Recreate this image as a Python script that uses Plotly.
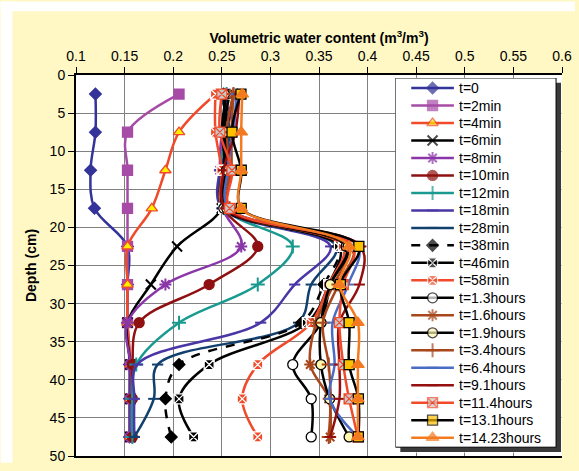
import plotly.graph_objects as go

# Depth of each probe (cm)
depth = [2.5, 7.5, 12.5, 17.5, 22.5, 27.5, 32.5, 38, 42.5, 47.5]

# Volumetric water content profiles (m3/m3) at each time
t0      = [0.120, 0.120, 0.115, 0.119, 0.153, 0.153, 0.153, 0.155, 0.155, 0.155]
t2min   = [0.206, 0.153, 0.153, 0.153, 0.153, 0.153, 0.153, 0.156, 0.156, 0.156]
t4min   = [0.244, 0.206, 0.192, 0.178, 0.153, 0.153, 0.153, 0.156, 0.156, 0.156]
t6min   = [0.262, 0.255, 0.250, 0.250, 0.204, 0.177, 0.153, 0.156, 0.156, 0.156]
t8min   = [0.258, 0.250, 0.248, 0.251, 0.270, 0.192, 0.153, 0.156, 0.156, 0.156]
t10min  = [0.252, 0.256, 0.252, 0.252, 0.287, 0.237, 0.165, 0.158, 0.158, 0.158]
t12min  = [0.255, 0.253, 0.250, 0.253, 0.323, 0.287, 0.206, 0.162, 0.158, 0.158]
t18min  = [0.250, 0.262, 0.248, 0.250, 0.362, 0.325, 0.290, 0.163, 0.160, 0.160]
t28min  = [0.248, 0.258, 0.250, 0.251, 0.368, 0.342, 0.329, 0.184, 0.180, 0.160]
t38min  = [0.252, 0.255, 0.251, 0.252, 0.370, 0.355, 0.332, 0.206, 0.192, 0.198]
t46min  = [0.258, 0.252, 0.253, 0.252, 0.371, 0.360, 0.338, 0.237, 0.206, 0.221]
t58min  = [0.2435, 0.2435, 0.250, 0.252, 0.375, 0.360, 0.342, 0.287, 0.271, 0.287]
t1_3h   = [0.255, 0.250, 0.255, 0.252, 0.378, 0.362, 0.352, 0.323, 0.342, 0.342]
t1_6h   = [0.262, 0.255, 0.258, 0.255, 0.380, 0.365, 0.347, 0.341, 0.360, 0.3615]
t1_9h   = [0.2527, 0.2527, 0.255, 0.255, 0.380, 0.3615, 0.352, 0.352, 0.361, 0.381]
t3_4h   = [0.262, 0.260, 0.260, 0.258, 0.385, 0.370, 0.354, 0.360, 0.362, 0.360]
t6_4h   = [0.265, 0.262, 0.256, 0.257, 0.390, 0.380, 0.364, 0.366, 0.361, 0.390]
t9_1h   = [0.268, 0.264, 0.252, 0.254, 0.393, 0.3915, 0.371, 0.371, 0.371, 0.3615]
t11_4h  = [0.250, 0.248, 0.2605, 0.258, 0.385, 0.375, 0.371, 0.375, 0.381, 0.390]
t13_1h  = [0.2697, 0.2605, 0.270, 0.270, 0.391, 0.372, 0.381, 0.381, 0.3905, 0.3905]
t14_23h = [0.271, 0.270, 0.270, 0.270, 0.381, 0.371, 0.390, 0.390, 0.390, 0.390]

x_ticks = [0.1, 0.15, 0.2, 0.25, 0.3, 0.35, 0.4, 0.45, 0.5, 0.55, 0.6]
y_ticks = [0, 5, 10, 15, 20, 25, 30, 35, 40, 45, 50]

# name, values, line colour, dash, marker symbol, marker fill, marker outline, marker size
series = [
    ("t=0",         t0,      "#333399", "solid", "diamond",       "#333399", "#333399", 9),
    ("t=2min",      t2min,   "#A64CA6", "solid", "square",        "#A64CA6", "#A64CA6", 10),
    ("t=4min",      t4min,   "#F04A2A", "solid", "triangle-up",   "#FFEE00", "#F04A2A", 10),
    ("t=6min",      t6min,   "#000000", "solid", "x-thin",        "#000000", "#000000", 10),
    ("t=8min",      t8min,   "#8A35A8", "solid", "asterisk",      "#8A35A8", "#8A35A8", 10),
    ("t=10min",     t10min,  "#8E1010", "solid", "circle",        "#8E1010", "#8E1010", 10),
    ("t=12min",     t12min,  "#199A90", "solid", "cross-thin",    "#199A90", "#199A90", 10),
    ("t=18min",     t18min,  "#4B36A6", "solid", "line-ew",       "#4B36A6", "#4B36A6", 8),
    ("t=28min",     t28min,  "#12406E", "solid", "line-ew",       "#12406E", "#12406E", 8),
    ("t=38min",     t38min,  "#000000", "dash",  "diamond",       "#000000", "#000000", 9),
    ("t=46min",     t46min,  "#000000", "solid", "square-x",      "#000000", "#FFFFFF", 10),
    ("t=58min",     t58min,  "#F04A2A", "solid", "square-x",      "#F04A2A", "#FFFFFF", 10),
    ("t=1.3hours",  t1_3h,   "#000000", "solid", "circle",        "#FFFFFF", "#000000", 10),
    ("t=1.6hours",  t1_6h,   "#A8461C", "solid", "asterisk",      "#A8461C", "#A8461C", 10),
    ("t=1.9hours",  t1_9h,   "#000000", "solid", "circle",        "#FFF6B0", "#000000", 10),
    ("t=3.4hours",  t3_4h,   "#A8461C", "solid", "cross-thin",    "#A8461C", "#A8461C", 10),
    ("t=6.4hours",  t6_4h,   "#4A6CC4", "solid", "line-ew",       "#4A6CC4", "#4A6CC4", 8),
    ("t=9.1hours",  t9_1h,   "#960F0F", "solid", "line-ew",       "#960F0F", "#960F0F", 8),
    ("t=11.4hours", t11_4h,  "#F04A2A", "solid", "square-x",      "#C8C8C8", "#F04A2A", 10),
    ("t=13.1hours", t13_1h,  "#000000", "solid", "square",        "#FFC000", "#000000", 10),
    ("t=14.23hours", t14_23h, "#F47A20", "solid", "triangle-up",  "#F47A20", "#F47A20", 11),
]

W, H = 579, 471
ml, mr, mt, mb = 76, 13, 75, 7
pw, ph = W - ml - mr, H - mt - mb

def px_x(p):
    return (p - ml) / pw

def px_y(p):
    return (H - mb - p) / ph

# Legend panel geometry (page pixels); a second, hidden axis pair maps 1:1 to pixels
LG_L, LG_R, LG_T, LG_B = 398, 560, 78, 455
SHADOW = 5
ROW0, ROW_STEP = 88.3, 17.85
SAMPLE_X0, SAMPLE_X1, TEXT_X = 414, 457, 460

fig = go.Figure()

def marker_style(sym, fill, outline, color, size):
    thin = sym.endswith("-thin") or sym in ("asterisk", "line-ew")
    return dict(symbol=sym, size=size, color=fill,
                line=dict(color=color if thin else outline,
                          width=2 if thin else 1.3))

for name, vals, color, dash, sym, fill, outline, size in series:
    fig.add_trace(go.Scatter(
        x=vals, y=depth, name=name, mode="lines+markers", showlegend=False,
        line=dict(color=color, width=2.5, dash=dash, shape="spline", smoothing=1),
        marker=marker_style(sym, fill, outline, color, size),
    ))

annotations = []
for i, (name, vals, color, dash, sym, fill, outline, size) in enumerate(series):
    yc = ROW0 + i * ROW_STEP
    xm = (SAMPLE_X0 + SAMPLE_X1) / 2
    fig.add_trace(go.Scatter(
        x=[SAMPLE_X0, xm, SAMPLE_X1], y=[yc, yc, yc], xaxis="x2", yaxis="y2",
        mode="lines+markers", showlegend=False, hoverinfo="skip",
        line=dict(color=color, width=2.5, dash="dash" if dash == "dash" else "solid"),
        marker=dict(marker_style(sym, fill, outline, color, size), size=[0, size, 0]),
    ))
    annotations.append(dict(
        x=TEXT_X, y=yc, xref="x2", yref="y2", text=name, showarrow=False,
        xanchor="left", yanchor="middle", font=dict(size=14, color="black"),
    ))

shapes = [
    # white strips along the top and left edges of the page
    dict(type="rect", xref="paper", yref="paper", x0=px_x(0), x1=px_x(W), y0=px_y(10), y1=px_y(0),
         fillcolor="white", line_width=0, layer="below"),
    dict(type="rect", xref="paper", yref="paper", x0=px_x(0), x1=px_x(12), y0=px_y(H), y1=px_y(0),
         fillcolor="white", line_width=0, layer="below"),
    # legend panel: drop shadow, then white box with black border
    dict(type="rect", xref="x2", yref="y2", x0=LG_L + SHADOW, x1=LG_R + SHADOW,
         y0=LG_T + SHADOW, y1=LG_B + SHADOW, fillcolor="#3A3A3A", line_width=0, layer="below"),
    dict(type="rect", xref="x2", yref="y2", x0=LG_L, x1=LG_R, y0=LG_T, y1=LG_B,
         fillcolor="white", line=dict(color="black", width=1), layer="below"),
]

fig.update_layout(
    width=W, height=H,
    margin=dict(l=ml, r=mr, t=mt, b=mb),
    paper_bgcolor="#FFF7C4",
    plot_bgcolor="white",
    font=dict(family="Arial, Liberation Sans, sans-serif", size=14, color="black"),
    shapes=shapes,
    annotations=annotations,
    showlegend=False,
    xaxis=dict(
        side="top", range=[0.1, 0.6], tickvals=x_ticks,
        ticktext=[f"{v:g}" for v in x_ticks],
        ticks="outside", ticklen=6, tickcolor="black",
        showline=True, linecolor="black", linewidth=2, mirror=True,
        showgrid=True, gridcolor="#808080", gridwidth=1, zeroline=False,
        title=dict(text="<b>Volumetric water content (m<sup>3</sup>/m<sup>3</sup>)</b>",
                   font=dict(size=14), standoff=2),
    ),
    yaxis=dict(
        range=[50, 0], tickvals=y_ticks,
        ticks="outside", ticklen=6, tickcolor="black",
        showline=True, linecolor="black", linewidth=2,
        showgrid=True, gridcolor="#808080", gridwidth=1, zeroline=False,
        title=dict(text="<b>Depth (cm)</b>", font=dict(size=14), standoff=10),
    ),
    xaxis2=dict(domain=[px_x(LG_L), px_x(LG_R + SHADOW + 0.5)], range=[LG_L, LG_R + SHADOW + 0.5],
                anchor="y2", visible=False, fixedrange=True),
    yaxis2=dict(domain=[px_y(LG_B + SHADOW + 0.5), px_y(LG_T)], range=[LG_B + SHADOW + 0.5, LG_T],
                anchor="x2", visible=False, fixedrange=True),
)

fig.write_html("out.html")
